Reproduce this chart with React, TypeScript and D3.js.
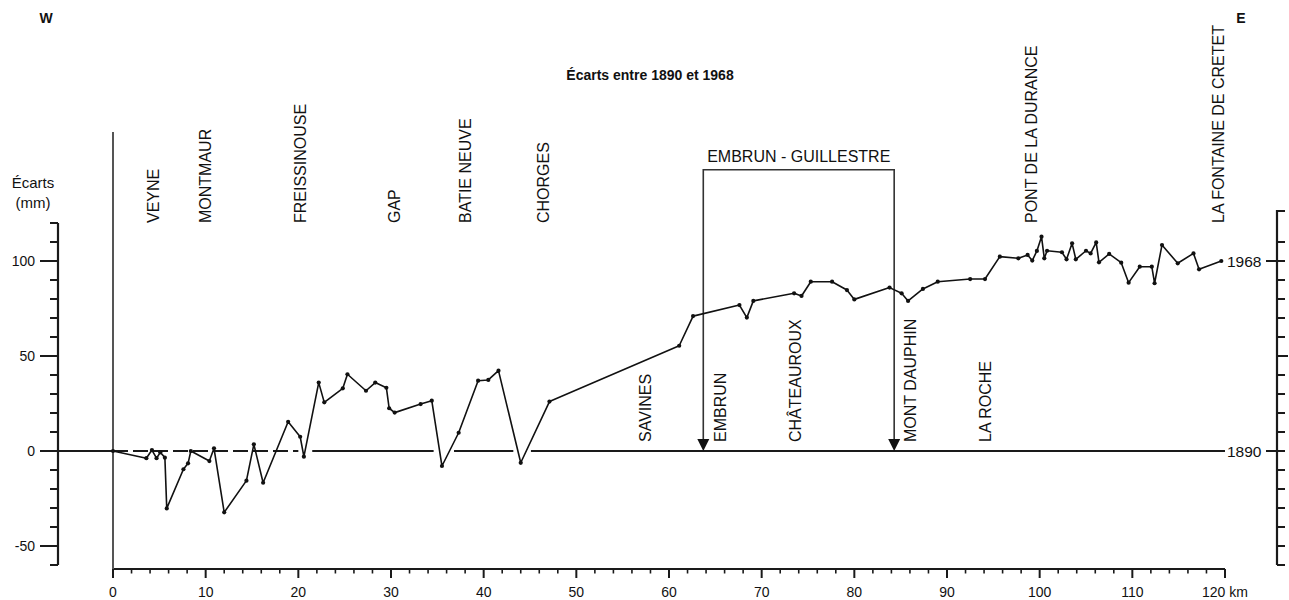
import React from "react";
import * as d3 from "d3";

// ---- data ----
const kmValues = [
  0, 3.6, 4.2, 4.7, 5.1, 5.6, 5.8, 7.6, 8.1, 8.4, 10.4, 10.9, 12.0, 14.4, 15.2, 16.2, 18.9, 20.2, 20.6,
  22.2, 22.8, 24.8, 25.3, 27.3, 28.3, 29.5, 29.8, 30.4, 33.2, 34.4, 35.5, 37.3, 39.4, 40.5, 41.6, 44.0, 47.1,
  61.1, 62.6, 67.6, 68.4, 69.1, 73.5, 74.3, 75.3, 77.6, 79.2, 80.0, 83.8, 85.1, 85.8, 87.4, 89.0, 92.5, 94.1,
  95.7, 97.7, 98.7, 99.2, 99.7, 100.2, 100.5, 100.8, 102.4, 102.9, 103.5, 103.9, 105.0, 105.5, 106.1, 106.4,
  107.5, 108.8, 109.6, 110.8, 112.1, 112.4, 113.2, 114.9, 116.6, 117.2, 119.6,
];
const ecartValues = [
  0, -3.8, 0.5, -3.8, -0.7, -3.5, -30.2, -9.6, -6.5, 0, -5.3, 1.4, -32.3, -15.6, 3.5, -16.7, 15.4, 7.5, -3.0,
  36, 25.6, 33, 40.4, 31.7, 36, 33.3, 22.5, 20.2, 24.7, 26.5, -7.9, 9.6, 37, 37.4, 42.3, -6.2, 26,
  55.4, 71, 76.8, 70.2, 79, 83, 81.6, 89.1, 89.1, 84.7, 79.8, 86, 83, 79, 85.3, 89.1, 90.5, 90.5,
  102.3, 101.4, 103.2, 100.2, 105.3, 112.8, 101.4, 105.4, 104.6, 100.9, 109.3, 100.9, 105.4, 104, 109.8, 99.3,
  103.7, 99.1, 88.6, 97, 97, 88.3, 108.4, 98.8, 104, 95.6, 100,
];

const topTowns = ["VEYNE", "MONTMAUR", "FREISSINOUSE", "GAP", "BATIE NEUVE", "CHORGES", "PONT DE LA DURANCE", "LA FONTAINE DE CRETET"];
const topTownKm = [4.3, 9.9, 20.2, 30.4, 38.0, 46.4, 99.1, 119.3];
const bottomTowns = ["SAVINES", "EMBRUN", "CHÂTEAUROUX", "MONT DAUPHIN", "LA ROCHE"];
const bottomTownKm = [57.4, 65.5, 73.6, 86.0, 94.1];

const bracketLabel = "EMBRUN - GUILLESTRE";
const bracketKm = [63.7, 84.3];
const bracketTopMm = 148;

const xTickLabels = ["0", "10", "20", "30", "40", "50", "60", "70", "80", "90", "100", "110", "120 km"];
const xTickValues = [0, 10, 20, 30, 40, 50, 60, 70, 80, 90, 100, 110, 120];
const yTickLabels = ["100", "50", "0", "-50"];
const yTickValues = [100, 50, 0, -50];
const yearLabels = ["1968", "1890"];
const yearValues = [100, 0];

// zero line pieces (km): dashed start, then solid pieces
const zeroDashed = [0, 20.0];
const zeroSolid = [[21.5, 34.6], [36.8, 43.2], [45.1, 120]];

const title = "Écarts entre 1890 et 1968";
const yAxisTitle = ["Écarts", "(mm)"];

const FONT = "'Liberation Sans', Arial, Helvetica, sans-serif";

export default function App() {
  const W = 1289, H = 600;
  const x = d3.scaleLinear().domain([0, 120]).range([113, 1225]);
  const y = d3.scaleLinear().domain([-60, 120]).range([565, 223]);
  const leftAxisX = 58;
  const rightAxisX = 1277;
  const xAxisY = 569;

  const pts: [number, number][] = kmValues.map((k, i) => [x(k), y(ecartValues[i])]);
  const line = d3.line<[number, number]>().x((d) => d[0]).y((d) => d[1]);

  const leftTicks = d3.range(-60, 121, 10);
  const rightTicks = d3.range(-60, 111, 10);
  const xMinor = d3.range(0, 121, 2);

  const axisColor = "#1a1a1a";

  return (
    <svg width={W} height={H} style={{ position: "absolute", left: 0, top: 0, background: "#fff" }} fontFamily={FONT}>
      <rect x={0} y={0} width={W} height={H} fill="#fff" />
      {/* W / E */}
      <text x={46} y={23} fontSize={14} fontWeight="bold" textAnchor="middle" fill="#111">W</text>
      <text x={1241} y={23} fontSize={14} fontWeight="bold" textAnchor="middle" fill="#111">E</text>
      {/* title */}
      <text x={650} y={80} fontSize={14} fontWeight="bold" textAnchor="middle" fill="#111">{title}</text>

      {/* y axis title */}
      <text x={33} y={188} fontSize={15} textAnchor="middle" fill="#111">{yAxisTitle[0]}</text>
      <text x={33} y={208} fontSize={15} textAnchor="middle" fill="#111">{yAxisTitle[1]}</text>

      {/* left axis */}
      <line x1={leftAxisX} x2={leftAxisX} y1={y(120)} y2={y(-60)} stroke={axisColor} strokeWidth={2.2} />
      {leftTicks.map((v) => (
        <line key={"lt" + v} x1={yTickValues.includes(v) ? 40 : 50} x2={leftAxisX} y1={y(v)} y2={y(v)} stroke={axisColor} strokeWidth={2} />
      ))}
      {yTickLabels.map((t, i) => (
        <text key={"yl" + t} x={35} y={y(yTickValues[i])} dy="0.36em" fontSize={14} textAnchor="end" fill="#111">{t}</text>
      ))}

      {/* right axis */}
      <line x1={rightAxisX} x2={rightAxisX} y1={210} y2={y(-60)} stroke={axisColor} strokeWidth={2.2} />
      <line x1={rightAxisX} x2={rightAxisX + 8} y1={211} y2={211} stroke={axisColor} strokeWidth={2} />
      {rightTicks.map((v) => (
        <line key={"rt" + v} x1={yearValues.includes(v) ? rightAxisX - 11 : rightAxisX} x2={v === 50 ? rightAxisX + 11 : rightAxisX + 8} y1={y(v)} y2={y(v)} stroke={axisColor} strokeWidth={2} />
      ))}
      {yearLabels.map((t, i) => (
        <text key={"yr" + t} x={1227} y={y(yearValues[i])} dy="0.36em" fontSize={15.5} textAnchor="start" fill="#111">{t}</text>
      ))}

      {/* x axis */}
      <line x1={x(0)} x2={x(120)} y1={xAxisY} y2={xAxisY} stroke={axisColor} strokeWidth={2} />
      {xMinor.map((v) => (
        <line key={"xt" + v} x1={x(v)} x2={x(v)} y1={xAxisY} y2={xAxisY + (v % 10 === 0 ? 9 : 4.5)} stroke={axisColor} strokeWidth={v % 10 === 0 ? 2 : 1.6} />
      ))}
      {xTickLabels.map((t, i) => (
        <text key={"xl" + t} x={x(xTickValues[i])} y={597} fontSize={14} textAnchor="middle" fill="#111">{t}</text>
      ))}

      {/* 0 km vertical */}
      <line x1={x(0)} x2={x(0)} y1={132} y2={xAxisY} stroke="#555" strokeWidth={2} />

      {/* zero (1890) line */}
      <line x1={40} x2={x(0)} y1={y(0)} y2={y(0)} stroke={axisColor} strokeWidth={2} />
      <line x1={x(zeroDashed[0])} x2={x(zeroDashed[1])} y1={y(0)} y2={y(0)} stroke={axisColor} strokeWidth={2} strokeDasharray="15,5" />
      {zeroSolid.map((s, i) => (
        <line key={"zs" + i} x1={x(s[0])} x2={x(s[1])} y1={y(0)} y2={y(0)} stroke={axisColor} strokeWidth={2} />
      ))}

      {/* bracket */}
      <path
        d={`M${x(bracketKm[0])},${y(0) - 12}V${y(bracketTopMm)}H${x(bracketKm[1])}V${y(0) - 12}`}
        fill="none" stroke="#333" strokeWidth={1.6} />
      {bracketKm.map((k, i) => (
        <path key={"ar" + i} d={`M${x(k) - 6},${y(0) - 12}L${x(k) + 6},${y(0) - 12}L${x(k)},${y(0)}Z`} fill="#111" />
      ))}
      <text x={(x(bracketKm[0]) + x(bracketKm[1])) / 2} y={y(bracketTopMm) - 8} fontSize={16} textAnchor="middle" fill="#111">{bracketLabel}</text>

      {/* town labels */}
      {topTowns.map((t, i) => (
        <text key={"tt" + t} transform={`translate(${x(topTownKm[i])},${y(120)}) rotate(-90)`} dy="0.36em" fontSize={16} textAnchor="start" fill="#111">{t}</text>
      ))}
      {bottomTowns.map((t, i) => (
        <text key={"bt" + t} transform={`translate(${x(bottomTownKm[i])},${y(0) - 9}) rotate(-90)`} dy="0.36em" fontSize={16} textAnchor="start" fill="#111">{t}</text>
      ))}

      {/* data line */}
      <path d={line(pts) || ""} fill="none" stroke="#111" strokeWidth={1.6} strokeLinejoin="round" />
      {pts.map((p, i) => (
        <circle key={"p" + i} cx={p[0]} cy={p[1]} r={2.1} fill="#111" />
      ))}
    </svg>
  );
}
